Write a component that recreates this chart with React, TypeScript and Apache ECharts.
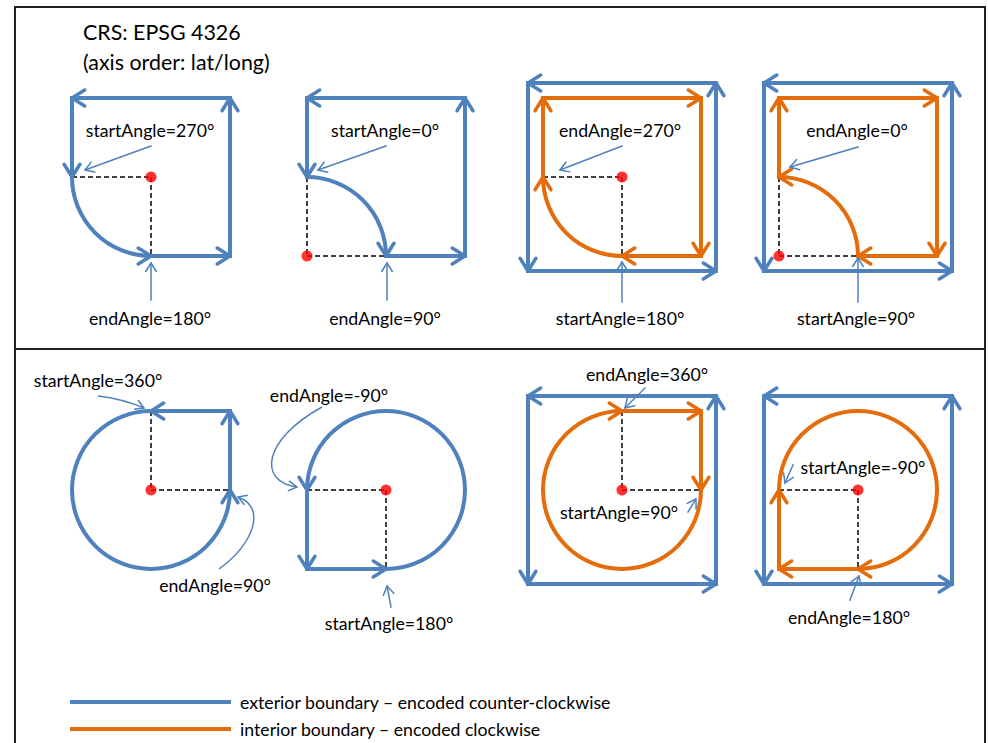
import React, { useEffect, useRef } from "react";
import * as echarts from "echarts";

const BLUE = "#4F81BD";
const ORANGE = "#E46C0A";
const DASH = "#404040";
const FONT = "Lato, 'Open Sans', sans-serif";

// Diagram coordinates (x to the right, y downwards)
const frameLines = [
  [15, 7, 985, 7],
  [15, 7, 15, 743],
  [985, 7, 985, 743],
  [15, 349, 985, 349],
];

// exterior boundary pieces (arrowhead at the end point)
const exteriorSegments = [
  [151, 256, 230, 256], [230, 256, 230, 98], [230, 98, 72, 98], [72, 98, 72, 177],
  [386, 256, 465, 256], [465, 256, 465, 98], [465, 98, 307, 98], [307, 98, 307, 177],
  [716, 83, 528, 83], [528, 83, 528, 271], [528, 271, 716, 271], [716, 271, 716, 83],
  [952, 83, 764, 83], [764, 83, 764, 271], [764, 271, 952, 271], [952, 271, 952, 83],
  [230, 490, 230, 411], [230, 411, 151, 411],
  [307, 490, 307, 569], [307, 569, 386, 569],
  [716, 396, 528, 396], [528, 396, 528, 584], [528, 584, 716, 584], [716, 584, 716, 396],
  [952, 396, 764, 396], [764, 396, 764, 584], [764, 584, 952, 584], [952, 584, 952, 396],
];

// interior boundary pieces
const interiorSegments = [
  [701, 256, 622, 256], [543, 177, 543, 98], [543, 98, 701, 98], [701, 98, 701, 256],
  [937, 256, 858, 256], [779, 177, 779, 98], [779, 98, 937, 98], [937, 98, 937, 256],
  [622, 411, 701, 411], [701, 411, 701, 490],
  [858, 569, 779, 569], [779, 569, 779, 490],
];

// arcs: cx, cy, r, fromDeg, toDeg (screen angles, 0 = right, 90 = down)
const exteriorArcs = [
  [151, 177, 79, 180, 90],
  [307, 256, 79, 270, 360],
  [151, 490, 79, 270, 0],
  [386, 490, 79, 90, -180],
];
const interiorArcs = [
  [622, 177, 79, 90, 180],
  [779, 256, 79, 360, 270],
  [622, 490, 79, 0, 270],
  [858, 490, 79, 180, 450],
];

const dashedLines = [
  [72, 177, 151, 177], [151, 177, 151, 256],
  [307, 177, 307, 256], [307, 256, 386, 256],
  [543, 177, 622, 177], [622, 177, 622, 256],
  [779, 177, 779, 256], [779, 256, 858, 256],
  [151, 411, 151, 490], [151, 490, 230, 490],
  [307, 490, 386, 490], [386, 490, 386, 569],
  [622, 411, 622, 490], [622, 490, 701, 490],
  [779, 490, 858, 490], [858, 490, 858, 569],
];

const centerPoints = [
  [151, 177], [307, 256], [622, 177], [779, 256],
  [151, 490], [386, 490], [622, 490], [858, 490],
];

const pointerLines = [
  [151, 146, 85, 170], [151, 300, 151, 263],
  [386, 146, 318, 170], [387, 300, 387, 263],
  [622, 146, 560, 170], [622, 302, 622, 262],
  [858, 147, 790, 167], [858, 302, 858, 258],
  [391, 607, 387, 586],
  [645, 388, 625, 408], [688, 512, 696, 499],
  [793, 465, 785, 483], [850, 600, 859, 576],
];

// x1, y1, cpx1, cpy1, cpx2, cpy2, x2, y2
const pointerCurves = [
  [98, 396, 115, 398, 130, 402, 144, 408],
  [219, 569, 252, 545, 268, 508, 238, 497],
  [322, 407, 262, 440, 258, 482, 297, 487],
];

// text, x, y (centre)
const angleLabels: [string, number, number][] = [
  ["startAngle=270°", 150, 130],
  ["endAngle=180°", 150, 318],
  ["startAngle=0°", 385, 130],
  ["endAngle=90°", 385, 318],
  ["endAngle=270°", 620, 130],
  ["startAngle=180°", 620, 318],
  ["endAngle=0°", 857, 130],
  ["startAngle=90°", 856, 318],
  ["startAngle=360°", 98, 380],
  ["endAngle=90°", 215, 585],
  ["endAngle=-90°", 329, 395],
  ["startAngle=180°", 389, 623],
  ["endAngle=360°", 647, 374],
  ["startAngle=90°", 619, 512],
  ["startAngle=-90°", 863, 467],
  ["endAngle=180°", 849, 617],
];

const titleLines: [string, number, number][] = [
  ["CRS: EPSG 4326", 83, 32],
  ["(axis order: lat/long)", 83, 62],
];

const legendItems: [string, string, number][] = [
  ["exterior boundary \u2013 encoded counter-clockwise", BLUE, 702],
  ["interior boundary \u2013 encoded clockwise", ORANGE, 729],
];
const legendLine = [70, 231];
const legendTextX = 240;

function chevron(ex: number, ey: number, dx: number, dy: number, len: number, ang: number) {
  const n = Math.hypot(dx, dy) || 1;
  const bx = -dx / n;
  const by = -dy / n;
  const c = Math.cos(ang);
  const s = Math.sin(ang);
  return [
    [ex + len * (bx * c - by * s), ey + len * (bx * s + by * c)],
    [ex, ey],
    [ex + len * (bx * c + by * s), ey + len * (-bx * s + by * c)],
  ];
}

function segmentRenderer(color: string, width: number, headLen: number, headWidth: number, head: boolean, dash?: number[]) {
  return (params: any, api: any) => {
    const a = api.coord([api.value(0), api.value(1)]);
    const b = api.coord([api.value(2), api.value(3)]);
    const children: any[] = [
      {
        type: "line",
        shape: { x1: a[0], y1: a[1], x2: b[0], y2: b[1] },
        style: { stroke: color, lineWidth: width, lineCap: dash ? "butt" : "square", lineDash: dash || null, fill: null },
      },
    ];
    if (head) {
      children.push({
        type: "polyline",
        shape: { points: chevron(b[0], b[1], b[0] - a[0], b[1] - a[1], headLen, (32 * Math.PI) / 180) },
        style: { stroke: color, lineWidth: headWidth, fill: null, lineJoin: "round", lineCap: "round" },
      });
    }
    return { type: "group", children };
  };
}

function arcRenderer(color: string) {
  return (params: any, api: any) => {
    const c = api.coord([api.value(0), api.value(1)]);
    const r = api.size([api.value(2), api.value(2)])[0];
    const from = (api.value(3) * Math.PI) / 180;
    const to = (api.value(4) * Math.PI) / 180;
    const cw = to > from;
    const ex = c[0] + r * Math.cos(to);
    const ey = c[1] + r * Math.sin(to);
    const dx = cw ? -Math.sin(to) : Math.sin(to);
    const dy = cw ? Math.cos(to) : -Math.cos(to);
    return {
      type: "group",
      children: [
        {
          type: "arc",
          shape: { cx: c[0], cy: c[1], r, startAngle: from, endAngle: to, clockwise: cw },
          style: { stroke: color, lineWidth: 4, fill: null },
        },
        {
          type: "polyline",
          shape: { points: chevron(ex, ey, dx, dy, 15, (32 * Math.PI) / 180) },
          style: { stroke: color, lineWidth: 3.5, fill: null, lineJoin: "round", lineCap: "round" },
        },
      ],
    };
  };
}

function curveRenderer(params: any, api: any) {
  const p0 = api.coord([api.value(0), api.value(1)]);
  const c1 = api.coord([api.value(2), api.value(3)]);
  const c2 = api.coord([api.value(4), api.value(5)]);
  const p3 = api.coord([api.value(6), api.value(7)]);
  return {
    type: "group",
    children: [
      {
        type: "bezierCurve",
        shape: { x1: p0[0], y1: p0[1], cpx1: c1[0], cpy1: c1[1], cpx2: c2[0], cpy2: c2[1], x2: p3[0], y2: p3[1] },
        style: { stroke: BLUE, lineWidth: 1.5, fill: null },
      },
      {
        type: "polyline",
        shape: { points: chevron(p3[0], p3[1], p3[0] - c2[0], p3[1] - c2[1], 10, (30 * Math.PI) / 180) },
        style: { stroke: BLUE, lineWidth: 1.5, fill: null },
      },
    ],
  };
}

function textRenderer(items: [string, number, number][], fontSize: number, align: string) {
  return (params: any, api: any) => {
    const item = items[params.dataIndex];
    const p = api.coord([api.value(0), api.value(1)]);
    return {
      type: "text",
      x: p[0],
      y: p[1],
      style: {
        text: item[0],
        fill: "#000",
        fontSize,
        fontFamily: FONT,
        align,
        verticalAlign: "middle",
      },
    };
  };
}

export default function App() {
  const ref = useRef<HTMLDivElement>(null);
  useEffect(() => {
    document.body.style.margin = "0";
    if (!ref.current) return;
    const chart = echarts.init(ref.current, undefined, { renderer: "svg" });
    const legendLines = legendItems.map((l) => [legendLine[0], l[2], legendLine[1], l[2]]);
    chart.setOption({
      animation: false,
      backgroundColor: "#ffffff",
      grid: { left: 0, right: 0, top: 0, bottom: 0 },
      xAxis: { type: "value", min: 0, max: 988, show: false },
      yAxis: { type: "value", min: 0, max: 743, inverse: true, show: false },
      series: [
        { type: "custom", renderItem: segmentRenderer("#222", 2, 0, 0, false), data: frameLines, silent: true },
        { type: "custom", renderItem: segmentRenderer(DASH, 2, 0, 0, false, [5, 3]), data: dashedLines, silent: true },
        { type: "custom", renderItem: segmentRenderer(BLUE, 4, 15, 3.5, true), data: exteriorSegments, silent: true },
        { type: "custom", renderItem: arcRenderer(BLUE), data: exteriorArcs, silent: true },
        { type: "custom", renderItem: segmentRenderer(ORANGE, 4, 15, 3.5, true), data: interiorSegments, silent: true },
        { type: "custom", renderItem: arcRenderer(ORANGE), data: interiorArcs, silent: true },
        { type: "custom", renderItem: segmentRenderer(BLUE, 1.5, 10, 1.5, true), data: pointerLines, silent: true },
        { type: "custom", renderItem: curveRenderer, data: pointerCurves, silent: true },
        {
          type: "scatter",
          data: centerPoints,
          symbolSize: 11,
          itemStyle: { color: "#FF0000" },
          silent: true,
          z: 5,
        },
        {
          type: "custom",
          renderItem: (params: any, api: any) => {
            const a = api.coord([api.value(0), api.value(1)]);
            const b = api.coord([api.value(2), api.value(3)]);
            return {
              type: "line",
              shape: { x1: a[0], y1: a[1], x2: b[0], y2: b[1] },
              style: { stroke: legendItems[params.dataIndex][1], lineWidth: 4 },
            };
          },
          data: legendLines,
          silent: true,
        },
        { type: "custom", renderItem: textRenderer(angleLabels, 17.7, "center"), data: angleLabels.map((l) => [l[1], l[2]]), silent: true, z: 6 },
        { type: "custom", renderItem: textRenderer(titleLines, 21.4, "left"), data: titleLines.map((l) => [l[1], l[2]]), silent: true, z: 6 },
        {
          type: "custom",
          renderItem: textRenderer(legendItems.map((l) => [l[0], legendTextX, l[2]] as [string, number, number]), 17.7, "left"),
          data: legendItems.map((l) => [legendTextX, l[2]]),
          silent: true,
          z: 6,
        },
      ],
    });
    return () => chart.dispose();
  }, []);
  return <div ref={ref} style={{ width: 988, height: 743 }} />;
}
